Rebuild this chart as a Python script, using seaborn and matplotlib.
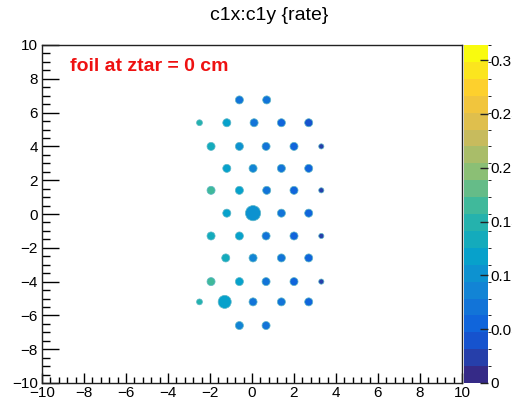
import numpy as np
import pandas as pd
import matplotlib
matplotlib.use("Agg")
import matplotlib.pyplot as plt
from matplotlib.colors import LinearSegmentedColormap, BoundaryNorm
from matplotlib.cm import ScalarMappable
from matplotlib.ticker import MultipleLocator
import seaborn as sns

# ---- data ----
c1x = [-0.6, 0.7,
       -2.5, -1.2, 0.1, 1.4, 2.7,
       -1.95, -0.6, 0.67, 2.0, 3.3,
       -1.2, 0.05, 1.4, 2.7,
       -1.95, -0.6, 0.7, 2.0, 3.3,
       -1.2, 0.05, 1.4, 2.7,
       -1.95, -0.6, 0.67, 2.0, 3.3,
       -1.25, 0.05, 1.4, 2.7,
       -1.95, -0.6, 0.67, 2.0, 3.3,
       -2.5, -1.3, 0.05, 1.4, 2.7,
       -0.6, 0.67]
c1y = [6.75, 6.75,
       5.4, 5.4, 5.4, 5.4, 5.4,
       4.0, 4.0, 4.0, 4.0, 4.0,
       2.7, 2.7, 2.7, 2.7,
       1.4, 1.4, 1.4, 1.4, 1.4,
       0.05, 0.05, 0.05, 0.05,
       -1.3, -1.3, -1.3, -1.3, -1.3,
       -2.6, -2.6, -2.6, -2.6,
       -4.0, -4.0, -4.0, -4.0, -4.0,
       -5.2, -5.2, -5.2, -5.2, -5.2,
       -6.6, -6.6]
rate = [0.075, 0.065,
        0.15, 0.11, 0.075, 0.06, 0.045,
        0.14, 0.105, 0.07, 0.05, 0.03,
        0.12, 0.09, 0.065, 0.05,
        0.17, 0.11, 0.075, 0.06, 0.03,
        0.12, 0.095, 0.065, 0.055,
        0.14, 0.11, 0.07, 0.06, 0.03,
        0.13, 0.08, 0.065, 0.055,
        0.16, 0.115, 0.075, 0.06, 0.03,
        0.15, 0.125, 0.075, 0.065, 0.055,
        0.09, 0.07]
spot = [1, 1,
        0.6, 1, 1, 1, 1,
        1, 1, 1, 1, 0.5,
        1, 1, 1, 1,
        1, 1, 1, 1, 0.5,
        1, 3.2, 1, 1,
        1, 1, 1, 1, 0.5,
        1, 1, 1, 1,
        1, 1, 1, 1, 0.5,
        0.6, 2.4, 1, 1, 1,
        1, 1]

df = pd.DataFrame({"c1x": c1x, "c1y": c1y, "rate": rate, "spot": spot})

# ROOT kBird palette
stops = np.linspace(0, 1, 9)
red = [0.2082, 0.0592, 0.0780, 0.0232, 0.1802, 0.5301, 0.8186, 0.9956, 0.9764]
green = [0.1664, 0.3599, 0.5041, 0.6419, 0.7178, 0.7492, 0.7328, 0.7862, 0.9832]
blue = [0.5293, 0.8684, 0.8385, 0.7914, 0.6425, 0.4662, 0.3499, 0.1968, 0.0539]
bird = LinearSegmentedColormap.from_list(
    "bird", list(zip(stops, zip(red, green, blue))), N=256)
vmax = 0.314
levels = np.linspace(0, vmax, 21)
norm = BoundaryNorm(levels, bird.N)

plt.rcParams["font.family"] = ["Liberation Sans", "DejaVu Sans"]

fig = plt.figure(figsize=(5.12, 3.99), dpi=100)
ax = fig.add_axes([42/512, 16/399, 420/512, 338/399])
cax = fig.add_axes([464/512, 16/399, 24/512, 338/399])

sns.scatterplot(data=df, x="c1x", y="c1y", hue="rate", size="spot",
                sizes=(14, 120), size_norm=(0.5, 3.2),
                palette=bird, hue_norm=norm, legend=False,
                edgecolor="#5fb8c8", linewidth=0.5, ax=ax)

ax.set_xlim(-10, 10)
ax.set_ylim(-10, 10)
ax.set_xlabel("")
ax.set_ylabel("")
ax.xaxis.set_major_locator(MultipleLocator(2))
ax.xaxis.set_minor_locator(MultipleLocator(0.4))
ax.yaxis.set_major_locator(MultipleLocator(2))
ax.yaxis.set_minor_locator(MultipleLocator(0.5))
ax.tick_params(axis="x", which="major", direction="in", length=7, width=1,
               labelsize=11, pad=2)
ax.tick_params(axis="x", which="minor", direction="in", length=4, width=1)
ax.tick_params(axis="y", which="major", direction="in", length=12, width=1,
               labelsize=11, pad=3)
ax.tick_params(axis="y", which="minor", direction="in", length=6, width=1)
for s in ax.spines.values():
    s.set_linewidth(1)
    s.set_color("#222222")

ax.text(-8.67, 8.7, "foil at ztar = 0 cm", color="#ee1111", fontsize=14,
        fontweight="bold", va="center")
fig.text(269/512, 1 - 16/399, "c1x:c1y {rate}", ha="center", va="center",
         fontsize=14)

sm = ScalarMappable(norm=norm, cmap=bird)
cb = fig.colorbar(sm, cax=cax, ticks=[0, 0.05, 0.1, 0.15, 0.2, 0.25, 0.3])
cb.outline.set_visible(False)
cb.set_ticklabels(["0", "0.05", "0.1", "0.15", "0.2", "0.25", "0.3"])
cax.tick_params(direction="in", length=6, width=1, labelsize=11, pad=2,
                color="#222222")

fig.savefig("out.png", dpi=100)
